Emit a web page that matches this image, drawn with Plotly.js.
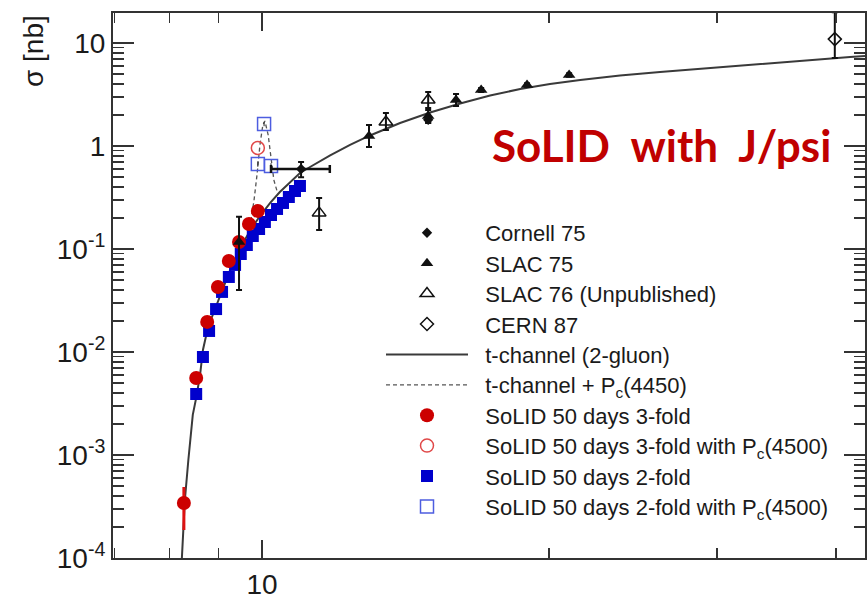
<!DOCTYPE html>
<html><head><meta charset="utf-8">
<script src="https://cdn.plot.ly/plotly-3.0.1.min.js"></script>
<style>html,body{margin:0;padding:0;background:#fff;} #chart{width:867px;height:604px;}</style>
</head><body><div id="chart"></div>
<script>
// ---- data (E_gamma in GeV, sigma in nb) ----
const curveE = [8.23, 8.30, 8.37, 8.41, 8.46, 8.53, 8.61, 8.67, 8.74, 8.82, 9.04, 9.26, 9.48, 9.71, 9.95, 10.20, 10.44, 10.70, 10.96, 11.23, 11.79, 12.37, 12.98, 13.96, 15.01, 16.14, 17.35, 18.66, 20.05, 21.57, 23.75, 26.16, 28.82, 33.32, 37.58, 41.40, 42.92];
const curveSigma = [8e-5, 3.66e-4, 8.94e-4, 1.40e-3, 2.45e-3, 3.58e-3, 5.98e-3, 0.01046, 0.01463, 0.01955, 0.0357, 0.0625, 0.100, 0.1496, 0.209, 0.280, 0.357, 0.447, 0.547, 0.625, 0.809, 1.023, 1.265, 1.673, 2.115, 2.586, 3.093, 3.576, 4.000, 4.374, 4.836, 5.229, 5.616, 6.324, 6.884, 7.311, 7.478];

const pcE = [9.71, 9.81, 9.88, 9.95, 10.02, 10.07, 10.15, 10.22, 10.29, 10.39];
const pcSigma = [0.160, 0.299, 0.523, 1.02, 1.60, 1.75, 1.28, 0.731, 0.468, 0.342];

const cornellE = [10.99, 14.94];
const cornellSigma = [0.598, 1.80];
const cornellErrY = [0.10, 0.12];
const cornellErrXPlus = [0.79, 0];
const cornellErrXMinus = [0.77, 0];

const slac75E = [9.46, 12.95, 14.94, 15.98, 16.98, 18.97, 21.0];
const slac75Sigma = [0.117, 1.25, 1.955, 2.80, 3.50, 3.91, 4.89];
const slac75ErrUp = [0.088, 0.35, 0.285, 0.40, 0.15, 0.15, 0.2];
const slac75ErrDown = [0.077, 0.27, 0.285, 0.35, 0.15, 0.15, 0.2];

const slac76E = [11.48, 13.49, 14.94];
const slac76Sigma = [0.224, 1.71, 2.80];
const slac76ErrUp = [0.089, 0.38, 0.54];
const slac76ErrDown = [0.071, 0.28, 0.46];

const cernE = [39.9];
const cernSigma = [10.9];
const cernErrUp = [9.0];
const cernErrDown = [3.75];

const solid3E = [8.28, 8.53, 8.76, 8.99, 9.23, 9.46, 9.69, 9.90];
const solid3Sigma = [3.42e-4, 5.6e-3, 0.0196, 0.0428, 0.0764, 0.117, 0.175, 0.234];
const solid3ErrUp = [1.47e-4, 0, 0, 0, 0, 0, 0, 0];
const solid3ErrDown = [1.55e-4, 0, 0, 0, 0, 0, 0, 0];

const solid3PcE = [9.90];
const solid3PcSigma = [0.956];

const solid2E = [8.53, 8.67, 8.80, 8.95, 9.08, 9.23, 9.37, 9.50, 9.64, 9.78, 9.93, 10.07, 10.22, 10.37, 10.52, 10.67, 10.83, 10.96];
const solid2Sigma = [3.91e-3, 8.94e-3, 0.0160, 0.0261, 0.0383, 0.0535, 0.0700, 0.0894, 0.1093, 0.1337, 0.1564, 0.1829, 0.2138, 0.2446, 0.2797, 0.3198, 0.3656, 0.4088];

const solid2PcE = [9.90, 10.05, 10.22];
const solid2PcSigma = [0.669, 1.635, 0.64];
const solid2PcErr = [0.04, 0.08, 0.04];

// ---- tick values and labels ----
const xTickVals = [10];
const xTickText = ['10'];
const xMinorTicks = [7, 8, 9, 20, 30, 40];
const yTickVals = [1e-4, 1e-3, 1e-2, 1e-1, 1, 10];
const yTickText = ['10<sup>-4</sup>', '10<sup>-3</sup>', '10<sup>-2</sup>', '10<sup>-1</sup>', '1', '10'];
const yMinorMantissa = [2, 3, 4, 5, 6, 7, 8, 9];
const yDecades = [1e-4, 1e-3, 1e-2, 1e-1, 1, 10];

const labels = ['Cornell 75', 'SLAC 75', 'SLAC 76 (Unpublished)', 'CERN 87',
  't-channel (2-gluon)', 't-channel + P<sub>c</sub>(4450)',
  'SoLID 50 days 3-fold', 'SoLID 50 days 3-fold with P<sub>c</sub>(4500)',
  'SoLID 50 days 2-fold', 'SoLID 50 days 2-fold with P<sub>c</sub>(4500)'];

// ---- layout helpers ----
const W = 867, H = 604, ML = 113, MR = 2, MT = 13, MB = 46;
const PW = W - ML - MR, PH = H - MT - MB;
const px2x = p => (p - ML) / PW;
const px2y = p => 1 - (p - MT) / PH;
const FONT = 'Liberation Sans, Arial, Helvetica, sans-serif';
const pad = '\u00a0\u00a0';

const yMinorTicks = [];
yDecades.forEach(d => yMinorMantissa.forEach(m => yMinorTicks.push(d * m)));

const ERRC = '#111';
const traces = [
  {x: curveE, y: curveSigma, mode: 'lines', line: {color: '#3a3a3a', width: 2}, name: pad + labels[4], legend: 'legend5'},
  {x: pcE, y: pcSigma, mode: 'lines', line: {color: '#555', width: 1.3, dash: '4px,3px'}, name: pad + labels[5], legend: 'legend6'},
  {x: solid2E, y: solid2Sigma, mode: 'markers', marker: {symbol: 'square', size: 12, color: '#0000cc'}, name: pad + labels[8], legend: 'legend9'},
  {x: solid2PcE, y: solid2PcSigma, mode: 'markers', marker: {symbol: 'square-open', size: 13, color: '#4d5de0', line: {width: 1.5}},
   error_y: {type: 'data', array: solid2PcErr, color: '#222', thickness: 1, width: 0}, name: pad + labels[9], legend: 'legend10'},
  {x: solid3E, y: solid3Sigma, mode: 'markers', marker: {symbol: 'circle', size: 14, color: '#cc0000'},
   error_y: {type: 'data', symmetric: false, array: solid3ErrUp, arrayminus: solid3ErrDown, color: '#dd1111', thickness: 3, width: 0},
   name: pad + labels[6], legend: 'legend7'},
  {x: solid3PcE, y: solid3PcSigma, mode: 'markers', marker: {symbol: 'circle-open', size: 13, color: '#e04848', line: {width: 1.5}}, name: pad + labels[7], legend: 'legend8'},
  {x: slac76E, y: slac76Sigma, mode: 'markers', marker: {symbol: 'triangle-up-open', size: 12, color: '#111', line: {width: 1.5}},
   error_y: {type: 'data', symmetric: false, array: slac76ErrUp, arrayminus: slac76ErrDown, color: ERRC, thickness: 2, width: 3},
   name: pad + labels[2], legend: 'legend3'},
  {x: slac75E, y: slac75Sigma, mode: 'markers', marker: {symbol: 'triangle-up', size: 11, color: '#111'},
   error_y: {type: 'data', symmetric: false, array: slac75ErrUp, arrayminus: slac75ErrDown, color: ERRC, thickness: 2, width: 3},
   name: pad + labels[1], legend: 'legend2'},
  {x: cornellE, y: cornellSigma, mode: 'markers', marker: {symbol: 'diamond', size: 8, color: '#111'},
   error_y: {type: 'data', array: cornellErrY, color: ERRC, thickness: 2, width: 3},
   error_x: {type: 'data', symmetric: false, array: cornellErrXPlus, arrayminus: cornellErrXMinus, color: ERRC, thickness: 2.5, width: 4},
   name: pad + labels[0], legend: 'legend'},
  {x: cernE, y: cernSigma, mode: 'markers', marker: {symbol: 'diamond-open', size: 10, color: '#111', line: {width: 1.5}},
   error_y: {type: 'data', symmetric: false, array: cernErrUp, arrayminus: cernErrDown, color: ERRC, thickness: 2, width: 3},
   name: pad + labels[3], legend: 'legend4'}
];

const legendY0 = 233, legendStep = 30.4, legendXpx = 381;
const layout = {
  width: W, height: H,
  margin: {l: ML, r: MR, t: MT, b: MB},
  paper_bgcolor: '#fff', plot_bgcolor: '#fff',
  font: {family: FONT, color: '#1a1a1a'},
  showlegend: true,
  xaxis: {
    type: 'log', range: [Math.log10(6.977), Math.log10(42.92)],
    tickmode: 'array', tickvals: xTickVals, ticktext: xTickText,
    ticks: 'inside', ticklen: 18, tickwidth: 1.5, tickcolor: '#333',
    minor: {tickmode: 'array', tickvals: xMinorTicks, ticks: 'inside', ticklen: 10, tickwidth: 1.5, tickcolor: '#333', showgrid: false},
    showline: true, linecolor: '#333', linewidth: 2, mirror: 'allticks',
    showgrid: false, zeroline: false,
    tickfont: {family: FONT, size: 28, color: '#1a1a1a'}
  },
  yaxis: {
    type: 'log', range: [-4, 1.291],
    tickmode: 'array', tickvals: yTickVals, ticktext: yTickText,
    ticks: 'inside', ticklen: 21, tickwidth: 1.5, tickcolor: '#333',
    minor: {tickmode: 'array', tickvals: yMinorTicks, ticks: 'inside', ticklen: 11, tickwidth: 1.5, tickcolor: '#333', showgrid: false},
    showline: true, linecolor: '#333', linewidth: 2, mirror: 'allticks',
    showgrid: false, zeroline: false,
    tickfont: {family: FONT, size: 28, color: '#1a1a1a'}
  },
  annotations: [
    {text: '\u03c3 [nb]', xref: 'paper', yref: 'paper', x: px2x(33), y: px2y(51), xanchor: 'center', yanchor: 'middle',
     textangle: -90, showarrow: false, font: {family: FONT, size: 28, color: '#1a1a1a'}},
    {text: '<b>SoLID\u00a0 with\u00a0 J/psi</b>', xref: 'paper', yref: 'paper', x: px2x(661), y: px2y(145), xanchor: 'center', yanchor: 'middle',
     showarrow: false, font: {family: 'Lato, Open Sans, sans-serif', size: 44, color: '#c00000'}}
  ]
};
const legendIds = ['legend', 'legend2', 'legend3', 'legend4', 'legend5', 'legend6', 'legend7', 'legend8', 'legend9', 'legend10'];
legendIds.forEach((id, i) => {
  layout[id] = {
    x: px2x(legendXpx), y: px2y(legendY0 + i * legendStep), xanchor: 'left', yanchor: 'middle',
    bgcolor: 'rgba(0,0,0,0)', borderwidth: 0, itemwidth: 82,
    font: {family: FONT, size: 22, color: '#1a1a1a'}
  };
});
Plotly.newPlot('chart', traces, layout, {staticPlot: true});
</script>
</body></html>
